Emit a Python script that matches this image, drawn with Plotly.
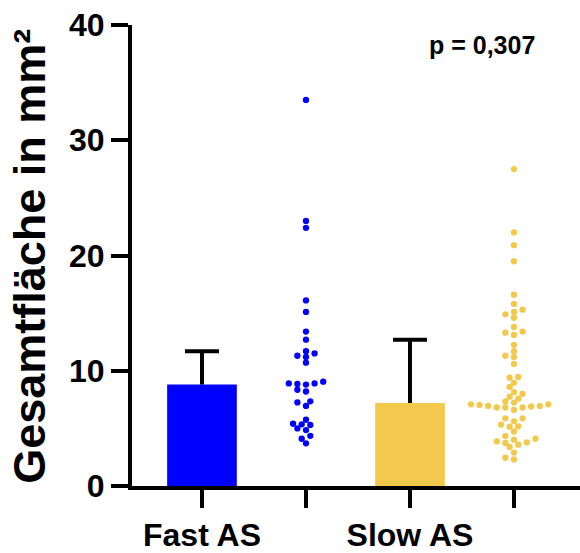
import numpy as np
import plotly.graph_objects as go

# Groups, colours and summary values (bar = median, whisker = upper quartile)
groups = ["Fast AS", "Slow AS"]
group_colors = ["#0000FF", "#F2C94C"]
medians = [8.8, 7.2]
upper_quartiles = [11.7, 12.7]

# Individual measurements (mm²)
fast_as = [33.5, 23.0, 22.4, 16.1, 15.1, 13.4, 12.7, 11.7, 11.5, 11.3, 11.2,
           10.7, 9.05, 8.9, 8.9, 8.85, 8.8, 8.35, 8.2, 7.35, 7.25, 6.95,
           5.75, 5.4, 5.35, 5.3, 5.0, 4.85, 4.35, 4.1, 3.7]
slow_as = [27.5, 22.0, 20.9, 19.5, 16.6, 15.8, 15.3, 15.1, 14.9, 14.6,
           13.8, 13.4, 13.3, 13.1, 12.25, 11.7, 11.3, 11.2, 10.6, 9.46, 9.4,
           8.95, 8.6, 8.15, 8.0, 7.75, 7.58, 7.33, 7.24, 7.09, 7.09, 7.03,
           6.95, 6.95, 6.9, 6.81, 6.81, 6.81, 6.6, 5.87, 5.87, 5.61, 5.33,
           5.18, 5.15, 4.73, 4.33, 4.1, 4.02, 3.87, 3.79, 3.73, 3.59, 3.39,
           2.9, 2.45, 2.31]

y_ticks = [0, 10, 20, 30, 40]
p_label = "p = 0,307"
y_title = "Gesamtfläche in mm²"

# Figure geometry
W, H = 580, 553
M_L, M_R, M_T, M_B = 132, 0, 25, 59
X_RANGE = [-0.673, 3.635]
Y_RANGE = [0, 40]
plot_w = W - M_L - M_R
plot_h = H - M_T - M_B
x_px_per_unit = plot_w / (X_RANGE[1] - X_RANGE[0])
y_px_per_unit = plot_h / (Y_RANGE[1] - Y_RANGE[0])

FONT = "Liberation Sans, Arial, sans-serif"


def swarm_offsets(values, diam=5.8, step=8.6):
    """Beeswarm layout: place each dot nearest the centre line without overlap."""
    vals = np.asarray(values, dtype=float)
    order = np.argsort(vals)
    cands = sorted({k * step / 2 for k in range(-14, 15)}, key=lambda c: (abs(c), c))
    placed = []
    offs = np.zeros(len(vals))
    for i in order:
        y = vals[i] * y_px_per_unit
        chosen = cands[-1]
        for c in cands:
            if all((c - px) ** 2 + (y - py) ** 2 >= diam ** 2 for px, py in placed):
                chosen = c
                break
        placed.append((chosen, y))
        offs[i] = chosen / x_px_per_unit
    return offs


bar_pos = [0, 2]
dot_pos = [1, 3]
samples = [fast_as, slow_as]
cap_half = 17 / x_px_per_unit

fig = go.Figure()

for k in range(2):
    fig.add_trace(go.Bar(
        x=[bar_pos[k]], y=[medians[k]], width=0.67,
        marker=dict(color=group_colors[k], line=dict(width=0)),
        showlegend=False, hoverinfo="skip",
    ))

# One-sided whiskers: from the bar top up to the upper quartile, with a cap
for k in range(2):
    xc = bar_pos[k]
    fig.add_trace(go.Scatter(
        x=[xc, xc, None, xc - cap_half, xc + cap_half],
        y=[medians[k], upper_quartiles[k], None, upper_quartiles[k], upper_quartiles[k]],
        mode="lines", line=dict(color="black", width=4),
        showlegend=False, hoverinfo="skip",
    ))

for k in range(2):
    offs = swarm_offsets(samples[k])
    fig.add_trace(go.Scatter(
        x=dot_pos[k] + offs, y=samples[k], mode="markers",
        marker=dict(color=group_colors[k], size=6.3, line=dict(width=0)),
        showlegend=False, hoverinfo="skip",
    ))

fig.update_layout(
    width=W, height=H,
    margin=dict(l=M_L, r=M_R, t=M_T, b=M_B, pad=0),
    paper_bgcolor="white", plot_bgcolor="white",
    font=dict(family=FONT, color="black"),
    xaxis=dict(
        range=X_RANGE, tickvals=[0, 1, 2, 3],
        ticktext=[groups[0], "", groups[1], ""],
        showline=True, linewidth=4, linecolor="black",
        ticks="outside", ticklen=18, tickwidth=4, tickcolor="black",
        showgrid=False, zeroline=False,
        tickfont=dict(family=FONT, size=32, color="black", weight="bold"),
    ),
    yaxis=dict(
        range=Y_RANGE, tickvals=y_ticks,
        showline=True, linewidth=4, linecolor="black",
        ticks="outside", ticklen=17, tickwidth=4, tickcolor="black",
        showgrid=False, zeroline=False,
        tickfont=dict(family=FONT, size=32, color="black", weight="bold"),
    ),
    annotations=[
        dict(text=y_title, textangle=-90, xref="paper", yref="paper",
             x=-0.228, y=0.499, xanchor="center", yanchor="middle",
             showarrow=False,
             font=dict(family=FONT, size=45, color="black", weight="bold")),
        dict(text=p_label, xref="paper", yref="paper",
             x=0.782, y=0.957, xanchor="center", yanchor="middle",
             showarrow=False,
             font=dict(family=FONT, size=25, color="black", weight="bold")),
    ],
)

fig.write_html("out.html")
